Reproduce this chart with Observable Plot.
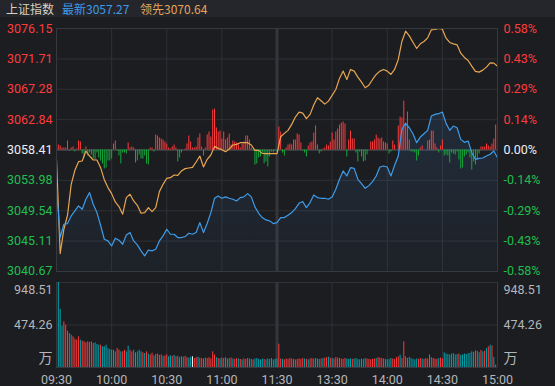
<!DOCTYPE html>
<html><head><meta charset="utf-8">
<script src="https://cdn.jsdelivr.net/npm/d3@7"></script>
<script src="https://cdn.jsdelivr.net/npm/@observablehq/plot@0.6"></script>
<style>
html,body{margin:0;padding:0;background:#1c1d21;}
#wrap{position:relative;width:555px;height:386px;background:#1c1d21;overflow:hidden;font-family:"Noto Sans CJK SC","Noto Sans",sans-serif;}
#title{position:absolute;left:0;top:0;width:555px;height:17px;background:#25262b;font-size:12px;line-height:17px;white-space:nowrap;}
#title span{position:absolute;top:0;}
#main{position:absolute;left:0;top:18px;}
#vol{position:absolute;left:0;top:280px;}
</style></head>
<body><div id="wrap">
<div id="title"><span style="left:6px;color:#d8d0c2">上证指数</span><span style="left:62px;color:#3d9be9">最新3057.27</span><span style="left:140px;color:#e3a45c">领先3070.64</span></div>
<div id="main"></div><div id="vol"></div>
</div>
<script>
// ---- data ----
const prevClose = 3058.41;
const priceTicks = [3076.15, 3071.71, 3067.28, 3062.84, 3058.41, 3053.98, 3049.54, 3045.11, 3040.67];
const pctLabels = ["0.58%","0.43%","0.29%","0.14%","0.00%","-0.14%","-0.29%","-0.43%","-0.58%"];
const timeTicks = [0, 30, 60, 90, 120, 150, 180, 210, 240];
const timeLabels = ["09:30","10:00","10:30","11:00","11:30","13:30","14:00","14:30","15:00"];
const volTicks = [948.51, 474.26];
const volUnit = "万";
// sampled every 2 minutes from 09:30
const sampleMinutes = d3.range(0, 241, 2);
const latest = [
3053.06,3045.63,3047.57,3047.67,3048.79,3049.51,3050.24,3049.76,3051.22,3052.19,
3050.49,3049.27,3047.42,3045.38,3045.14,3044.41,3045.53,3045.24,3044.65,3046.01,
3046.36,3045.14,3044.56,3043.68,3042.95,3043.78,3043.68,3043.92,3045.14,3045.87,
3046.84,3046.11,3046.11,3045.63,3045.63,3045.77,3046.26,3046.11,3046.36,3047.81,
3046.36,3047.67,3049.27,3051.36,3051.70,3051.36,3051.56,3051.36,3051.22,3050.97,
3051.46,3051.56,3052.04,3051.56,3050.10,3049.17,3048.54,3048.20,3048.06,3047.67,
3047.81,3048.54,3048.54,3048.88,3049.27,3049.86,3050.63,3050.88,3050.00,3050.73,
3051.85,3051.46,3051.36,3051.36,3051.22,3051.56,3052.67,3054.13,3055.35,3054.62,
3055.83,3055.73,3054.13,3053.50,3052.82,3053.21,3053.79,3054.62,3055.93,3056.08,
3055.93,3054.62,3056.17,3057.53,3061.42,3062.30,3061.66,3060.79,3059.48,3060.30,
3060.79,3061.28,3063.37,3063.61,3063.71,3063.95,3062.30,3061.28,3061.91,3061.66,
3059.96,3059.53,3059.72,3058.02,3057.05,3057.19,3057.24,3057.53,3057.78,3058.26,
3057.27];
const leading = [
3057.05,3043.29,3046.84,3048.88,3053.40,3055.44,3056.71,3056.80,3058.26,3057.53,
3056.95,3056.95,3055.83,3054.08,3052.92,3052.04,3050.83,3050.15,3049.03,3051.46,
3051.94,3050.97,3050.34,3049.17,3049.27,3050.00,3049.42,3050.00,3052.33,3053.40,
3054.28,3054.37,3054.76,3054.71,3055.35,3055.69,3055.78,3055.88,3056.66,3057.53,
3055.93,3057.05,3057.68,3058.94,3058.65,3058.46,3058.17,3058.55,3059.14,3059.23,
3059.48,3059.48,3059.48,3059.14,3058.36,3058.36,3057.92,3057.87,3057.87,3057.87,
3057.87,3060.35,3060.84,3061.28,3062.15,3063.22,3063.95,3063.80,3062.98,3063.61,
3064.97,3066.04,3065.60,3065.11,3065.55,3066.38,3067.25,3068.86,3069.93,3068.71,
3070.17,3069.93,3069.05,3068.32,3067.50,3067.88,3068.71,3069.44,3069.93,3070.17,
3069.93,3069.44,3070.17,3071.63,3074.30,3075.76,3075.08,3074.15,3073.23,3073.91,
3074.25,3074.79,3075.95,3076.00,3076.15,3076.05,3074.74,3074.11,3073.91,3073.77,
3072.55,3071.92,3071.48,3070.66,3069.88,3069.78,3070.07,3070.51,3071.14,3071.09,
3070.64];
// buy/sell strength bars, one per minute (09:31 .. 15:00), arbitrary units
const flow = [
5,4,2,2,2,9,-1,2,3,-2,
1,9,8,-4,-8,3,-6,-3,-5,-9,
-10,-3,-8,-11,-14,-19,-18,-11,-11,-9,
6,9,-1,-6,-14,-3,-3,-4,7,2,
3,2,-13,-11,-5,-9,-9,-6,-14,-15,
2,2,-2,15,14,12,11,10,8,6,
2,1,3,5,2,-12,-8,-3,0,1,
6,14,8,2,2,3,12,16,3,-6,
2,15,18,13,40,41,22,18,19,11,
18,10,12,16,5,9,8,7,5,2,
6,8,14,14,10,2,-1,-15,-14,-8,
-7,-3,-14,-12,-17,-7,-2,-3,-1,-2,
23,18,-3,-6,2,5,6,5,10,10,
16,15,7,-1,-3,-7,4,7,8,17,
24,5,-4,-2,1,2,5,4,8,17,
10,18,21,25,27,28,26,-7,10,19,
11,11,-3,-12,-2,-7,-12,-11,-5,0,
8,8,10,15,12,11,12,8,7,6,
-4,-2,9,5,0,24,33,32,49,27,
38,10,-2,-2,-3,-11,-6,2,4,0,
0,9,10,19,19,6,2,-3,4,10,
-6,-5,-6,-13,-3,-4,-5,-2,-10,-19,
-18,-7,-5,-3,-8,-20,-12,-15,-10,-4,
3,3,3,6,4,3,6,11,25,2];
// volume (万), one per minute 09:30 .. 15:00
const volume = [
316,948.51,651,461,510,472,406,379,361,342,
316,305,342,305,294,286,275,286,279,286,
268,275,257,249,249,231,231,249,212,201,
193,193,175,212,193,175,175,193,175,238,
193,175,193,164,175,193,175,164,156,175,
150,140,160,130,145,150,135,140,125,130,
140,120,130,125,135,120,125,110,120,115,
125,110,105,115,120,100,110,115,105,
100,95,105,100,110,95,175,140,
110,100,95,105,100,110,95,100,105,
95,90,100,95,90,85,95,90,100,95,90,85,95,100,90,85,95,90,85,95,90,100,85,90,95,
260,
95,90,85,95,90,100,95,90,85,90,95,90,100,95,90,85,95,100,95,
100,95,90,95,100,105,110,115,105,100,95,110,105,100,95,90,100,95,90,95,
90,95,100,90,85,95,90,100,95,90,85,90,95,100,110,105,100,95,90,85,90,100,95,90,110,119,138,100,
286,
119,100,112,100,90,85,95,90,100,95,90,100,95,140,110,100,95,90,100,105,95,
164,150,145,140,150,155,140,145,150,135,140,150,145,155,160,
175,170,185,180,165,190,175,180,212,230,249,240,
112,26,417];
// r = up minute, c = down minute, w = unchanged
const volDir = "w" +
"ccc" + "rrcrcrrrr" + "crrrr" + "crrcccr" + "cccccc" + "rcrrcrrcc" + "rrcrcccrcr" +
"crrcrcrrcrrccrcrccrcrrccwrrcr" +
"rrcrrrrr" + "crcrcrrcrcrrcrcrrcrcr" + "cccccrcccrcc" + "c" +
"rrcrrrrrrcrrrr" + "crcrrccrcrcrrcrc" + "rrrrrrr" + "cccrccccccc" + "rrrrrcrrrr" +
"cccc" + "rrrrcrrr" + "cccccc" + "rrcrrrrcrrrcrr" + "ccccccccrcccccccrc" + "rcrcrcrcr" + "crc";

// ---- styles ----
const C = {
  grid: "#2f3136", frame: "#36383e", mid: "#3a3c42", lunch: "#34363b",
  red: "#ff3a3a", green: "#16a83b", white: "#eeeeee", upTxt: "#ff3b3b", dnTxt: "#1fbf4f",
  orange: "#e7a551", blue: "#3d9be8", cyan: "#00a3ad", gray: "#b4b6ba"
};
const font = 'Roboto,"Noto Sans CJK SC",sans-serif';
const flowScale = 0.1458; // index points per flow unit
const yMin = priceTicks[priceTicks.length - 1], yMax = priceTicks[0];

const lines = sampleMinutes.map((m, i) => ({m, latest: latest[i], leading: leading[i]}));
const bars = flow.map((v, i) => ({k: i + 1, v}));
const vols = volume.map((v, i) => ({k: i, v, dir: volDir[i]}));
const labColor = p => p > prevClose ? C.upTxt : p < prevClose ? C.dnTxt : C.white;
const innerTicks = priceTicks.slice(0, -1), lastTick = priceTicks.slice(-1);

const main = Plot.plot({
  width: 555, height: 262,
  marginLeft: 56, marginRight: 58, marginTop: 10, marginBottom: 9,
  style: {background: "transparent", fontFamily: font, fontSize: "12.5px", overflow: "visible"},
  x: {domain: [0, 240], axis: null},
  y: {domain: [yMin, yMax], axis: null},
  marks: [
    Plot.ruleY(priceTicks, {stroke: C.grid}),
    Plot.ruleX(timeTicks, {stroke: C.grid}),
    Plot.ruleX([120], {stroke: C.lunch, strokeWidth: 3}),
    Plot.ruleY([prevClose], {stroke: C.mid, strokeWidth: 2}),
    Plot.areaY(lines, {x: "m", y1: yMin, y2: "latest", fill: "url(#blueGrad)"}),
    Plot.ruleX(bars.filter(d => d.v > 0), {x: "k", y1: prevClose, y2: d => prevClose + d.v * flowScale, stroke: C.red, strokeWidth: 1}),
    Plot.ruleX(bars.filter(d => d.v < 0), {x: "k", y1: prevClose, y2: d => prevClose + d.v * flowScale, stroke: C.green, strokeWidth: 1}),
    Plot.line(lines, {x: "m", y: "leading", stroke: C.orange, strokeWidth: 1.2}),
    Plot.line(lines, {x: "m", y: "latest", stroke: C.blue, strokeWidth: 1.2}),
    Plot.frame({stroke: C.frame}),
    Plot.text(innerTicks, {x: () => 0, y: d => d, text: d => d.toFixed(2), textAnchor: "end", dx: -4, fill: labColor}),
    Plot.text(innerTicks, {x: () => 240, y: d => d, text: (d, i) => pctLabels[i], textAnchor: "start", dx: 6, fill: labColor}),
    Plot.text(lastTick, {x: () => 0, y: d => d, text: d => d.toFixed(2), textAnchor: "end", dx: -4, dy: -1, fill: labColor}),
    Plot.text(lastTick, {x: () => 240, y: d => d, text: () => pctLabels[pctLabels.length - 1], textAnchor: "start", dx: 6, dy: -1, fill: labColor})
  ]
});
const defs = document.createElementNS("http://www.w3.org/2000/svg", "defs");
defs.innerHTML = '<linearGradient id="blueGrad" x1="0" y1="0" x2="0" y2="1"><stop offset="0" stop-color="#3d7fc4" stop-opacity="0.16"/><stop offset="1" stop-color="#3d7fc4" stop-opacity="0.04"/></linearGradient>';
main.insertBefore(defs, main.firstChild);
document.getElementById("main").appendChild(main);

const vol = Plot.plot({
  width: 555, height: 106,
  marginLeft: 56, marginRight: 58, marginTop: 2, marginBottom: 19,
  style: {background: "transparent", fontFamily: font, fontSize: "12.5px", overflow: "visible"},
  x: {domain: [0, 240], axis: null},
  y: {domain: [0, volTicks[0]], axis: null},
  marks: [
    Plot.ruleY(volTicks, {stroke: C.grid}),
    Plot.ruleX(timeTicks, {stroke: C.grid}),
    Plot.ruleX([120], {stroke: C.lunch, strokeWidth: 3}),
    Plot.ruleX(vols.filter(d => d.dir === "r"), {x: "k", y1: 0, y2: "v", stroke: C.red, strokeWidth: 1}),
    Plot.ruleX(vols.filter(d => d.dir === "c"), {x: "k", y1: 0, y2: "v", stroke: C.cyan, strokeWidth: 1}),
    Plot.ruleX(vols.filter(d => d.dir === "w"), {x: "k", y1: 0, y2: "v", stroke: "#f0f0f0", strokeWidth: 1}),
    Plot.ruleY([0], {stroke: C.frame}),
    Plot.ruleX([0, 240], {stroke: C.frame}),
    Plot.text(volTicks.slice(0, 1), {x: () => 0, y: d => d, text: d => d.toFixed(2), textAnchor: "end", dx: -4, dy: 7, fill: C.gray}),
    Plot.text(volTicks.slice(0, 1), {x: () => 240, y: d => d, text: d => d.toFixed(2), textAnchor: "start", dx: 6, dy: 7, fill: C.gray}),
    Plot.text(volTicks.slice(1), {x: () => 0, y: d => d, text: d => d.toFixed(2), textAnchor: "end", dx: -4, fill: C.gray}),
    Plot.text(volTicks.slice(1), {x: () => 240, y: d => d, text: d => d.toFixed(2), textAnchor: "start", dx: 6, fill: C.gray}),
    Plot.text([volUnit], {x: () => 0, y: () => 0, text: d => d, textAnchor: "end", dx: -4, dy: -9, fill: C.gray, fontSize: 14, fontFamily: '"Noto Sans CJK SC",sans-serif'}),
    Plot.text([volUnit], {x: () => 240, y: () => 0, text: d => d, textAnchor: "start", dx: 6, dy: -9, fill: C.gray, fontSize: 14, fontFamily: '"Noto Sans CJK SC",sans-serif'}),
    Plot.text(timeTicks, {x: d => d, y: () => 0, text: (d, i) => timeLabels[i], dy: 12, fill: C.gray, lineAnchor: "middle"})
  ]
});
document.getElementById("vol").appendChild(vol);
</script>
</body></html>
